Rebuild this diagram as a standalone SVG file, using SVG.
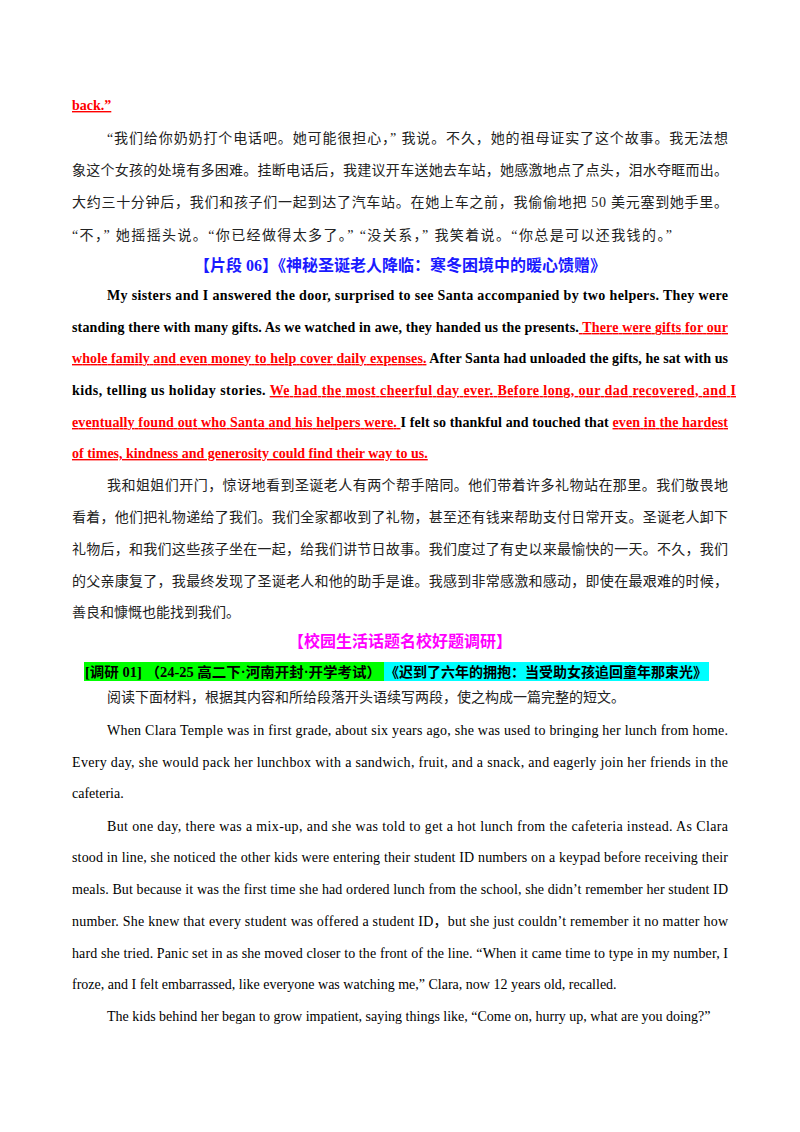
<svg xmlns="http://www.w3.org/2000/svg" width="800" height="1132" viewBox="0 0 800 1132">
<style>
text{font-family:"Liberation Serif","Noto Sans CJK SC",serif;font-size:14px;fill:#000}
.b{font-weight:bold}
.r{fill:#ff0000;text-decoration:underline}
.cn{font-size:14px;fill:#222}
.h{font-weight:bold;font-size:16px;fill:#1a1aff;text-anchor:middle}
.m{font-weight:bold;font-size:16px;fill:#ff00ff;text-anchor:middle}
</style>
<rect width="800" height="1132" fill="#fff"/>
<text class="b" x="72" y="110"><tspan class="r">back.”</tspan></text>
<text class="cn" x="107" y="143" textLength="621" lengthAdjust="spacing">“我们给你奶奶打个电话吧。她可能很担心，” 我说。不久，她的祖母证实了这个故事。我无法想</text>
<text class="cn" x="72" y="175" textLength="656" lengthAdjust="spacing">象这个女孩的处境有多困难。挂断电话后，我建议开车送她去车站，她感激地点了点头，泪水夺眶而出。</text>
<text class="cn" x="72" y="207" textLength="656" lengthAdjust="spacing">大约三十分钟后，我们和孩子们一起到达了汽车站。在她上车之前，我偷偷地把 50 美元塞到她手里。</text>
<text class="cn" x="72" y="240" textLength="600" lengthAdjust="spacing">“不，” 她摇摇头说。“你已经做得太多了。” “没关系，” 我笑着说。“你总是可以还我钱的。”</text>
<text class="h" x="400" y="271">【片段 06】《神秘圣诞老人降临：寒冬困境中的暖心馈赠》</text>
<text class="b" x="107" y="300" textLength="621" lengthAdjust="spacing">My sisters and I answered the door, surprised to see Santa accompanied by two helpers. They were</text>
<text class="b" x="72" y="332" textLength="656" lengthAdjust="spacing">standing there with many gifts. As we watched in awe, they handed us the presents.<tspan class="r"> There were gifts for our</tspan></text>
<text class="b" x="72" y="363" textLength="656" lengthAdjust="spacing"><tspan class="r">whole family and even money to help cover daily expenses.</tspan>  After Santa had unloaded the gifts, he sat with us</text>
<text class="b" x="72" y="395" textLength="664" lengthAdjust="spacing">kids, telling us holiday stories.  <tspan class="r">We had the most cheerful day ever. Before long, our dad recovered, and I </tspan></text>
<text class="b" x="72" y="427" textLength="656" lengthAdjust="spacing"><tspan class="r">eventually found out who Santa and his helpers were. </tspan> I felt so thankful and touched that  <tspan class="r">even in the hardest</tspan></text>
<text class="b" x="72" y="458"><tspan class="r">of times, kindness and generosity could find their way to us.</tspan></text>
<text class="cn" x="107" y="490" textLength="621" lengthAdjust="spacing">我和姐姐们开门，惊讶地看到圣诞老人有两个帮手陪同。他们带着许多礼物站在那里。我们敬畏地</text>
<text class="cn" x="72" y="522" textLength="656" lengthAdjust="spacing">看着，他们把礼物递给了我们。我们全家都收到了礼物，甚至还有钱来帮助支付日常开支。圣诞老人卸下</text>
<text class="cn" x="72" y="554" textLength="656" lengthAdjust="spacing">礼物后，和我们这些孩子坐在一起，给我们讲节日故事。我们度过了有史以来最愉快的一天。不久，我们</text>
<text class="cn" x="72" y="586" textLength="656" lengthAdjust="spacing">的父亲康复了，我最终发现了圣诞老人和他的助手是谁。我感到非常感激和感动，即使在最艰难的时候，</text>
<text class="cn" x="72" y="617">善良和慷慨也能找到我们。</text>
<text class="m" x="400" y="647">【校园生活话题名校好题调研】</text>
<rect x="84" y="662" width="300" height="19" fill="#00ff00"/>
<rect x="384" y="662" width="325" height="19" fill="#00ffff"/>
<text class="b" x="85" y="677" textLength="296" lengthAdjust="spacingAndGlyphs">[调研 01] （24-25 高二下·河南开封·开学考试）</text>
<text class="b" x="385" y="677" textLength="322" lengthAdjust="spacingAndGlyphs">《迟到了六年的拥抱：当受助女孩追回童年那束光》</text>
<text class="cn" x="107" y="702">阅读下面材料，根据其内容和所给段落开头语续写两段，使之构成一篇完整的短文。</text>
<text x="107" y="735" textLength="621" lengthAdjust="spacing">When Clara Temple was in first grade, about six years ago, she was used to bringing her lunch from home.</text>
<text x="72" y="767" textLength="656" lengthAdjust="spacing">Every day, she would pack her lunchbox with a sandwich, fruit, and a snack, and eagerly join her friends in the</text>
<text x="72" y="798">cafeteria.</text>
<text x="107" y="831" textLength="621" lengthAdjust="spacing">But one day, there was a mix-up, and she was told to get a hot lunch from the cafeteria instead. As Clara</text>
<text x="72" y="862" textLength="656" lengthAdjust="spacing">stood in line, she noticed the other kids were entering their student ID numbers on a keypad before receiving their</text>
<text x="72" y="894" textLength="656" lengthAdjust="spacing">meals. But because it was the first time she had ordered lunch from the school, she didn’t remember her student ID</text>
<text x="72" y="926" textLength="656" lengthAdjust="spacing">number. She knew that every student was offered a student ID，but she just couldn’t remember it no matter how</text>
<text x="72" y="958" textLength="656" lengthAdjust="spacing">hard she tried. Panic set in as she moved closer to the front of the line. “When it came time to type in my number, I</text>
<text x="72" y="989">froze, and I felt embarrassed, like everyone was watching me,” Clara, now 12 years old, recalled.</text>
<text x="107" y="1021">The kids behind her began to grow impatient, saying things like, “Come on, hurry up, what are you doing?”</text>
</svg>
